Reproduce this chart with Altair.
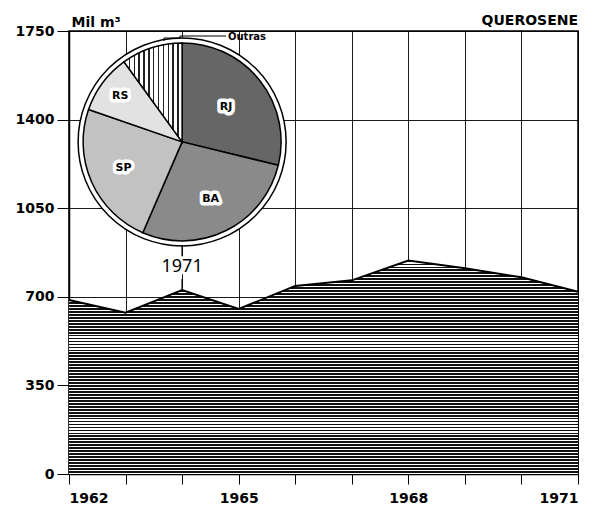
import math
import altair as alt
import pandas as pd

# ---------------- data ----------------
years = [1962, 1963, 1964, 1965, 1966, 1967, 1968, 1969, 1970, 1971]
volumes = [687, 637, 727, 652, 743, 765, 843, 813, 777, 720]

states = ["RJ", "BA", "SP", "RS", "Outras"]
shares = [28.8, 27.7, 23.8, 9.7, 10.0]

y_ticks = [0, 350, 700, 1050, 1400, 1750]

pie_year = 1964          # inset pie anchored over this year
pie_level = 1312         # ... at this level of the y scale
note_text = "1971"       # the pie refers to 1971
note_level = 818
note_rule_low = [727, 770]
note_rule_high = [860, 905]

chart_title = "QUEROSENE"
unit_title = "Mil m\u00b3"

# ---------------- tables ----------------
df = pd.DataFrame({"ano": years, "vol": volumes})
pie = pd.DataFrame({"uf": states, "pct": shares, "ordem": list(range(len(states)))})

W, H = 509, 443
FONT = "DejaVu Sans"
NOTE_FONT = "Noto Sans"

# horizontal hatching for the area
n = 72
stops = []
for i in range(n):
    a, b, c = i / n, (i + 0.6) / n, (i + 1) / n
    stops += [
        {"offset": a, "color": "#111111"},
        {"offset": b, "color": "#111111"},
        {"offset": b, "color": "#ffffff"},
        {"offset": min(c, 1.0), "color": "#ffffff"},
    ]
area_fill = {"gradient": "linear", "x1": 0, "y1": 0, "x2": 0, "y2": 1, "stops": stops}

# vertical dashed lines for the "Outras" slice
m = 12
vstops = []
for i in range(m):
    a, b, c = i / m, (i + 0.3) / m, (i + 1) / m
    vstops += [
        {"offset": a, "color": "#222222"},
        {"offset": b, "color": "#222222"},
        {"offset": b, "color": "#ffffff"},
        {"offset": min(c, 1.0), "color": "#ffffff"},
    ]
outras_fill = {"gradient": "linear", "x1": 0, "y1": 0, "x2": 1, "y2": 0, "stops": vstops}

x_enc = alt.X(
    "ano:Q",
    scale=alt.Scale(domain=[years[0], years[-1]], nice=False, zero=False),
    axis=alt.Axis(
        values=years,
        format="d",
        labelExpr="datum.value % 3 == 0 ? datum.label : ''",
        title=None,
        tickSize=10,
        labelPadding=7,
        grid=True,
    ),
)
y_enc = alt.Y(
    "vol:Q",
    scale=alt.Scale(domain=[0, 1750], nice=False),
    axis=alt.Axis(
        values=y_ticks,
        format="d",
        title=unit_title,
        titleAngle=0,
        titleAlign="left",
        titleBaseline="alphabetic",
        titleX=2,
        titleY=-5,
        tickSize=12,
        labelPadding=3,
        grid=True,
    ),
)

base = alt.Chart(df)
area = base.mark_area(fill=area_fill, interpolate="linear").encode(x=x_enc, y=y_enc)
line = base.mark_line(color="black", strokeWidth=2).encode(x="ano:Q", y="vol:Q")

one = pd.DataFrame({"k": [1]})

ring = alt.Chart(one).mark_arc(
    radius=104, theta=0, theta2=2 * math.pi, fill="white", stroke="black", strokeWidth=1.5
).encode(x=alt.datum(pie_year), y=alt.datum(pie_level))

pie_base = alt.Chart(pie).encode(
    theta=alt.Theta("pct:Q", stack=True),
    order=alt.Order("ordem:O"),
    x=alt.datum(pie_year),
    y=alt.datum(pie_level),
)
slices = pie_base.mark_arc(radius=99, stroke="black", strokeWidth=1.5).encode(
    fill=alt.condition(
        "datum.uf == 'Outras'",
        alt.value(outras_fill),
        alt.Fill(
            "uf:N",
            scale=alt.Scale(domain=states, range=["#666666", "#8a8a8a", "#c2c2c2", "#e2e2e2", "#d8d8d8"]),
            legend=None,
        ),
    )
)


def label_layers(which, r):
    expr = "indexof(%s, datum.uf) >= 0 ? datum.uf : ''" % (str(which).replace('"', "'"))
    halo = pie_base.transform_calculate(lbl=expr).mark_text(
        radius=r, font=FONT, fontSize=11, fontWeight="bold",
        stroke="white", strokeWidth=7, strokeJoin="round", color="white",
    ).encode(text="lbl:N")
    txt = pie_base.transform_calculate(lbl=expr).mark_text(
        radius=r, font=FONT, fontSize=11, fontWeight="bold", color="black",
    ).encode(text="lbl:N")
    return [halo, txt]


pie_labels = label_layers(["RJ"], 56) + label_layers(["BA", "SP"], 64) + label_layers(["RS"], 77)

note_df = pd.DataFrame({"t": [note_text]})
note_halo = alt.Chart(note_df).mark_text(
    font=NOTE_FONT, fontSize=18, color="white", stroke="white", strokeWidth=6, strokeJoin="round"
).encode(x=alt.datum(pie_year), y=alt.datum(note_level), text="t:N")
note = alt.Chart(note_df).mark_text(
    font=NOTE_FONT, fontSize=18, color="black"
).encode(x=alt.datum(pie_year), y=alt.datum(note_level), text="t:N")
rule_low = alt.Chart(one).mark_rule(color="black", strokeWidth=1.3).encode(
    x=alt.datum(pie_year), y=alt.datum(note_rule_low[0]), y2=alt.datum(note_rule_low[1])
)
rule_high = alt.Chart(one).mark_rule(color="black", strokeWidth=1.3).encode(
    x=alt.datum(pie_year), y=alt.datum(note_rule_high[0]), y2=alt.datum(note_rule_high[1])
)

# "Outras" call-out
outras_text = alt.Chart(pd.DataFrame({"t": ["Outras"]})).mark_text(
    font=FONT, fontSize=10, fontWeight="bold", align="left", baseline="middle", color="black"
).encode(x=alt.value(159), y=alt.value(6), text="t:N")
lead1 = alt.Chart(one).mark_rule(color="black", strokeWidth=1).encode(
    x=alt.value(111), x2=alt.value(157), y=alt.value(5)
)
lead2 = alt.Chart(one).mark_rule(color="black", strokeWidth=1).encode(
    x=alt.value(95), x2=alt.value(111), y=alt.value(7)
)
lead3 = alt.Chart(one).mark_rule(color="black", strokeWidth=1).encode(
    x=alt.value(95), y=alt.value(7), y2=alt.value(10)
)
lead4 = alt.Chart(one).mark_rule(color="black", strokeWidth=1).encode(
    x=alt.value(111), y=alt.value(5), y2=alt.value(8)
)

title_text = alt.Chart(pd.DataFrame({"t": [chart_title]})).mark_text(
    font=FONT, fontSize=14, fontWeight="bold", align="right", baseline="alphabetic", color="black"
).encode(x=alt.value(W), y=alt.value(-6), text="t:N")

chart = (
    alt.layer(area, line, ring, slices, *pie_labels, note_halo, rule_low, rule_high, note,
              lead1, lead2, lead3, lead4, outras_text, title_text)
    .properties(
        width=W,
        height=H,
        autosize=alt.AutoSizeParams(type="none"),
        padding={"left": 61, "top": 23, "right": 20, "bottom": 36},
        background="white",
    )
    .configure_view(stroke="black", strokeWidth=1.5)
    .configure_axis(
        domainColor="black",
        domainWidth=1.5,
        tickColor="black",
        tickWidth=1,
        gridColor="black",
        gridWidth=0.9,
        gridOpacity=1,
        labelFont=FONT,
        labelFontSize=14,
        labelFontWeight="bold",
        labelColor="black",
        titleFont=FONT,
        titleFontSize=14,
        titleFontWeight="bold",
        titleColor="black",
    )
)

chart.save("out.html", embed_options={"renderer": "svg", "actions": False})
